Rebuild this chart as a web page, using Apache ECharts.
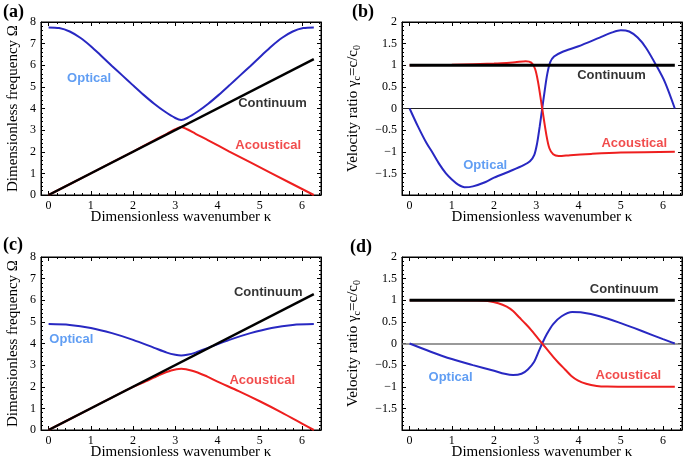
<!DOCTYPE html>
<html><head><meta charset="utf-8">
<script src="https://cdn.jsdelivr.net/npm/echarts@6/dist/echarts.min.js"></script>
<style>html,body{margin:0;padding:0;background:#fff}#c{width:685px;height:463px}</style>
</head><body><div id="c"></div>
<script>
// ---- tick labels ----
const kTicks = [0, 1, 2, 3, 4, 5, 6];
const omegaTicks = [0, 1, 2, 3, 4, 5, 6, 7, 8];
const ratioTickMarks = [-2, -1.5, -1, -0.5, 0, 0.5, 1, 1.5, 2];
const ratioTickLabels = [-1.5, -1, -0.5, 0, 0.5, 1, 1.5, 2];
const panelLetters = ['(a)', '(b)', '(c)', '(d)'];
const curveNames = ['Optical', 'Acoustical', 'Continuum'];

// ---- panel (a): frequency ----
const aOptical = [[0,7.75],[0.25,7.72],[0.5,7.56],[0.75,7.27],[1,6.88],[1.25,6.43],[1.5,5.97],[1.75,5.52],[2,5.07],[2.25,4.63],[2.5,4.22],[2.75,3.86],[3,3.56],[3.14,3.47],[3.28,3.56],[3.53,3.86],[3.78,4.22],[4.03,4.63],[4.28,5.07],[4.53,5.52],[4.78,5.97],[5.03,6.43],[5.28,6.88],[5.53,7.27],[5.78,7.56],[6.03,7.72],[6.28,7.75]];
const aAcoustical = [[0,0],[1,1],[2,2.01],[2.5,2.53],[2.8,2.83],[3.0,3.04],[3.14,3.15],[3.28,3.04],[3.48,2.83],[3.78,2.53],[4.28,2.01],[5.28,1],[6.28,0]];
const aContinuum = [[0,0],[6.28,6.28]];

// ---- panel (b): velocity ratio ----
const bOptical = [[0,0],[0.2,-0.42],[0.4,-0.8],[0.53,-1.0],[0.7,-1.28],[0.86,-1.5],[1.0,-1.64],[1.15,-1.76],[1.3,-1.82],[1.5,-1.8],[1.8,-1.7],[2.0,-1.6],[2.4,-1.44],[2.7,-1.31],[2.85,-1.22],[2.95,-1.08],[3.02,-0.8],[3.08,-0.42],[3.14,0],[3.2,0.42],[3.26,0.8],[3.33,1.07],[3.42,1.2],[3.6,1.3],[4.0,1.44],[4.5,1.64],[4.8,1.76],[5.0,1.81],[5.2,1.78],[5.4,1.64],[5.6,1.4],[5.85,0.98],[6.05,0.6],[6.28,0]];
const bAcoustical = [[0,1],[1,1.01],[2,1.04],[2.5,1.07],[2.75,1.09],[2.88,1.06],[2.97,0.92],[3.04,0.62],[3.14,0],[3.24,-0.62],[3.31,-0.92],[3.4,-1.06],[3.53,-1.1],[3.8,-1.08],[4.3,-1.05],[5,-1.02],[6.28,-1]];
const bContinuum = [[0,1],[6.28,1]];

// ---- panel (c): frequency ----
const cOptical = [[0,4.9],[0.5,4.86],[1,4.72],[1.5,4.48],[2,4.17],[2.5,3.8],[2.8,3.58],[3,3.48],[3.14,3.45],[3.28,3.48],[3.48,3.58],[3.78,3.8],[4.28,4.17],[4.78,4.48],[5.28,4.72],[5.78,4.86],[6.28,4.9]];
const cAcoustical = [[0,0],[1,1],[1.5,1.5],[2,1.99],[2.3,2.25],[2.6,2.52],[2.9,2.75],[3.14,2.83],[3.4,2.74],[3.7,2.52],[4,2.24],[4.5,1.8],[5,1.33],[5.5,0.83],[6,0.3],[6.28,0]];
const cContinuum = [[0,0],[6.28,6.28]];

// ---- panel (d): velocity ratio ----
const dOptical = [[0,0],[0.5,-0.19],[1,-0.36],[1.5,-0.5],[2,-0.63],[2.25,-0.7],[2.45,-0.73],[2.65,-0.7],[2.8,-0.6],[2.95,-0.42],[3.05,-0.2],[3.14,0],[3.25,0.22],[3.4,0.45],[3.6,0.63],[3.85,0.73],[4.05,0.72],[4.5,0.63],[5,0.47],[5.5,0.29],[6,0.1],[6.28,0]];
const dAcoustical = [[0,1],[1,1],[1.6,0.995],[1.85,0.98],[2.1,0.93],[2.3,0.85],[2.45,0.75],[2.6,0.6],[2.75,0.45],[2.88,0.31],[3.14,0],[3.4,-0.31],[3.53,-0.45],[3.68,-0.6],[3.83,-0.75],[3.98,-0.85],[4.18,-0.93],[4.43,-0.98],[4.68,-0.995],[5.28,-1],[6.28,-1]];
const dContinuum = [[0,1],[6.28,1]];

// ---- layout / style (not data) ----
const SERIF = '"Liberation Serif","Times New Roman",serif';
const SANS = '"Liberation Sans",Arial,sans-serif';
const BLUE = '#2828c2', RED = '#ee1f1f', LBLUE = '#3a86f0';
const XMIN = -0.18, XMAX = 6.45;
const gridPos = [{left:41, top:22}, {left:402, top:22}, {left:41, top:257}, {left:402, top:257}];
const GW = 280, GH = 173;
const letterPos = [[3, 3], [352, 3], [3, 236], [350, 238]];
const labelAnchors = [
  {Optical:[0.96,5.38], Continuum:[5.3,4.22], Acoustical:[5.2,2.28]},
  {Optical:[1.79,-1.31], Continuum:[4.78,0.77], Acoustical:[5.32,-0.8]},
  {Optical:[0.54,4.17], Continuum:[5.2,6.34], Acoustical:[5.06,2.27]},
  {Optical:[0.97,-0.78], Continuum:[5.08,1.24], Acoustical:[5.18,-0.73]}
];
const labelColors = {Optical: LBLUE, Continuum: '#000', Acoustical: RED};

function minorTicks(lo, hi, step, majors) {
  const out = [];
  const n = Math.round((hi - lo) / step);
  for (let i = 0; i <= n; i++) {
    const v = +(lo + i * step).toFixed(4);
    if (!majors.some(m => Math.abs(m - v) < 1e-6)) out.push(v);
  }
  return out;
}
const fmt = v => String(+v.toFixed(2)).replace('-', '\u2212');

const xAxes = [], yAxes = [], series = [], grids = [], graphics = [];
const panels = [
  {opt:aOptical, ac:aAcoustical, co:aContinuum, freq:true},
  {opt:bOptical, ac:bAcoustical, co:bContinuum, freq:false},
  {opt:cOptical, ac:cAcoustical, co:cContinuum, freq:true},
  {opt:dOptical, ac:dAcoustical, co:dContinuum, freq:false}
];
const kMinor = minorTicks(0, 6.4, 0.2, kTicks);

panels.forEach((p, g) => {
  grids.push({left: gridPos[g].left, top: gridPos[g].top, width: GW, height: GH,
    show: true, borderColor: '#000', borderWidth: 1, backgroundColor: 'transparent', outerBoundsMode: 'none'});
  const xb = {type:'value', gridIndex:g, min:XMIN, max:XMAX, splitLine:{show:false}};
  const lineOn = {show:true, onZero:false, lineStyle:{color:'#000', width:1}};
  const lineOff = {show:false, onZero:false};
  xAxes.push(Object.assign({}, xb, {position:'bottom', axisLine:lineOn,
    axisTick:{show:true, inside:true, length:4, customValues:kTicks, lineStyle:{color:'#000'}},
    axisLabel:{show:true, customValues:kTicks, margin:5, fontFamily:SERIF, fontSize:12, color:'#000', formatter:fmt},
    name:'Dimensionless wavenumber \u03ba', nameLocation:'middle', nameGap:15, nameMoveOverlap:false,
    nameTextStyle:{fontFamily:SERIF, fontSize:15, color:'#000'}}));
  xAxes.push(Object.assign({}, xb, {position:'bottom', axisLine:lineOff,
    axisTick:{show:true, inside:true, length:2, customValues:kMinor, lineStyle:{color:'#000'}}, axisLabel:{show:false}}));
  xAxes.push(Object.assign({}, xb, {position:'top', axisLine:lineOn,
    axisTick:{show:true, inside:true, length:4, customValues:kTicks, lineStyle:{color:'#000'}}, axisLabel:{show:false}}));
  xAxes.push(Object.assign({}, xb, {position:'top', axisLine:lineOff,
    axisTick:{show:true, inside:true, length:2, customValues:kMinor, lineStyle:{color:'#000'}}, axisLabel:{show:false}}));

  const ymin = p.freq ? 0 : -2, ymax = p.freq ? 8 : 2;
  const yMaj = p.freq ? omegaTicks : ratioTickMarks;
  const yLab = p.freq ? omegaTicks : ratioTickLabels;
  const yMin = p.freq ? minorTicks(0, 8, 0.2, omegaTicks) : minorTicks(-2, 2, 0.1, ratioTickMarks);
  const yb = {type:'value', gridIndex:g, min:ymin, max:ymax, splitLine:{show:false}};
  yAxes.push(Object.assign({}, yb, {position:'left', axisLine:lineOn,
    axisTick:{show:true, inside:true, length:4, customValues:yMaj, lineStyle:{color:'#000'}},
    axisLabel:{show:true, customValues:yLab, margin:5, fontFamily:SERIF, fontSize:12, color:'#000', formatter:fmt},
    name: p.freq ? 'Dimensionless frequency \u03a9' : 'Velocity ratio \u03b3{sub|c}=c/c{sub|0}',
    nameLocation:'middle', nameRotate:90, nameGap: p.freq ? 19 : 40, nameMoveOverlap:false,
    nameTextStyle:{fontFamily:SERIF, fontSize:15, color:'#000', lineHeight:18,
      rich:{sub:{fontFamily:SERIF, fontSize:10, color:'#000', verticalAlign:'bottom', lineHeight:18, padding:[6,0,0,0]}}}}));
  yAxes.push(Object.assign({}, yb, {position:'left', axisLine:lineOff,
    axisTick:{show:true, inside:true, length:2, customValues:yMin, lineStyle:{color:'#000'}}, axisLabel:{show:false}}));
  yAxes.push(Object.assign({}, yb, {position:'right', axisLine:lineOn,
    axisTick:{show:true, inside:true, length:4, customValues:yMaj, lineStyle:{color:'#000'}}, axisLabel:{show:false}}));
  yAxes.push(Object.assign({}, yb, {position:'right', axisLine:lineOff,
    axisTick:{show:true, inside:true, length:2, customValues:yMin, lineStyle:{color:'#000'}}, axisLabel:{show:false}}));

  const xi = g * 4, yi = g * 4;
  const base = {type:'line', xAxisIndex:xi, yAxisIndex:yi, showSymbol:false, symbol:'none', silent:true, animation:false};
  const optS = Object.assign({}, base, {name:curveNames[0], data:p.opt, smooth:0.3, z:3,
    lineStyle:{color:BLUE, width:2}});
  if (!p.freq) {
    optS.markLine = {silent:true, symbol:'none', animation:false, label:{show:false},
      lineStyle:{color: g === 1 ? '#222' : '#777', width: g === 1 ? 1 : 1.5, type:'solid'},
      data:[{yAxis:0}], z:1};
  }
  series.push(optS);
  series.push(Object.assign({}, base, {name:curveNames[1], data:p.ac, smooth:0.3, z:3,
    lineStyle:{color:RED, width:2}}));
  series.push(Object.assign({}, base, {name:curveNames[2], data:p.co, z:4,
    lineStyle:{color:'#000', width: p.freq ? 2.5 : 3}}));
  series.push({type:'scatter', xAxisIndex:xi, yAxisIndex:yi, symbolSize:0, silent:true, animation:false, z:6,
    data: curveNames.map(n => ({name:n, value:labelAnchors[g][n],
      label:{show:true, position:'inside', formatter:n, color:labelColors[n],
        fontFamily:SANS, fontWeight:'bold', fontSize:13}}))});
  graphics.push({type:'text', left:letterPos[g][0], top:letterPos[g][1],
    style:{text:panelLetters[g], font:'bold 18px ' + SERIF, fill:'#000'}});
});

const chart = echarts.init(document.getElementById('c'), null, {renderer:'canvas'});
chart.setOption({
  animation:false,
  backgroundColor:'#fff',
  grid:grids, xAxis:xAxes, yAxis:yAxes, series:series, graphic:graphics
});
</script></body></html>
